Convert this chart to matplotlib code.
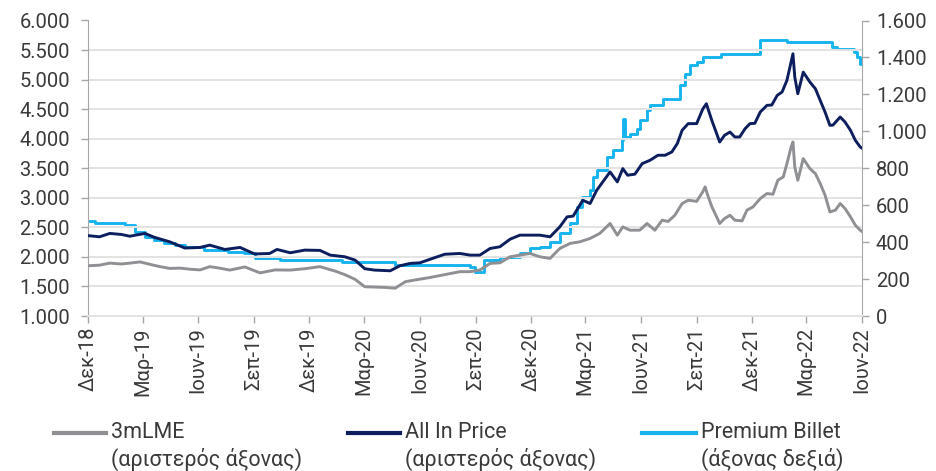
import matplotlib
matplotlib.use("Agg")
import matplotlib.pyplot as plt
from matplotlib.lines import Line2D
from matplotlib.ticker import FuncFormatter
import pandas as pd

plt.rcParams['font.family'] = ['Roboto', 'DejaVu Sans']

# ---------------- data ----------------
lme_dates = ["2018-12-01", "2018-12-20", "2019-01-06", "2019-01-25", "2019-02-08", "2019-02-25",
             "2019-03-15", "2019-03-30", "2019-04-15", "2019-05-02", "2019-05-20", "2019-06-04",
             "2019-06-20", "2019-07-06", "2019-07-23", "2019-08-17", "2019-09-11", "2019-10-06",
             "2019-10-31", "2019-11-24", "2019-12-19", "2020-01-13", "2020-01-29", "2020-02-15",
             "2020-03-02", "2020-03-18", "2020-04-04", "2020-04-21", "2020-05-08", "2020-05-24",
             "2020-06-17", "2020-07-12", "2020-08-06", "2020-08-23", "2020-09-08", "2020-09-25",
             "2020-10-11", "2020-10-28", "2020-11-13", "2020-11-30", "2020-12-16", "2021-01-02",
             "2021-01-18", "2021-02-04", "2021-02-20", "2021-03-09", "2021-03-25", "2021-04-11",
             "2021-04-23", "2021-05-02", "2021-05-14", "2021-05-30", "2021-06-11", "2021-06-24",
             "2021-07-06", "2021-07-16", "2021-07-27", "2021-08-08", "2021-08-18", "2021-09-01",
             "2021-09-11", "2021-09-15", "2021-09-19", "2021-09-26", "2021-10-04", "2021-10-09",
             "2021-10-17", "2021-10-26", "2021-11-03", "2021-11-15", "2021-11-23", "2021-12-03",
             "2021-12-15", "2021-12-26", "2022-01-05", "2022-01-13", "2022-01-22", "2022-01-28",
             "2022-02-04", "2022-02-07", "2022-02-10", "2022-02-15", "2022-02-24", "2022-03-07",
             "2022-03-16", "2022-03-24", "2022-04-01", "2022-04-09", "2022-04-18", "2022-04-26",
             "2022-05-04", "2022-05-13", "2022-05-21", "2022-05-29", "2022-06-01"]
lme_values = [1850, 1860, 1895, 1880, 1895, 1915,
              1870, 1835, 1805, 1810, 1790, 1780,
              1835, 1810, 1777, 1830, 1730, 1780,
              1777, 1800, 1835, 1760, 1700, 1620,
              1495, 1490, 1484, 1470, 1580, 1610,
              1650, 1700, 1750, 1750, 1777, 1890,
              1900, 2002, 2030, 2058, 2002, 1975,
              2143, 2228, 2255, 2312, 2397, 2565,
              2368, 2508, 2452, 2452, 2565, 2452,
              2621, 2600, 2705, 2903, 2959, 2940,
              3100, 3184, 3050, 2850, 2677, 2565,
              2649, 2705, 2621, 2610, 2790, 2846,
              2987, 3072, 3060, 3297, 3353, 3578,
              3860, 3944, 3522, 3297, 3663, 3494,
              3410, 3241, 3044, 2761, 2790, 2903,
              2818, 2677, 2537, 2452, 2430]

allin_dates = ["2018-12-01", "2018-12-20", "2019-01-06", "2019-01-25", "2019-02-08", "2019-03-05",
               "2019-03-21", "2019-04-15", "2019-05-10", "2019-06-04", "2019-06-20", "2019-07-15",
               "2019-08-09", "2019-09-02", "2019-09-27", "2019-10-09", "2019-10-31", "2019-11-24",
               "2019-12-19", "2020-01-05", "2020-01-29", "2020-02-15", "2020-03-02", "2020-03-18",
               "2020-04-13", "2020-04-29", "2020-05-16", "2020-06-01", "2020-06-17", "2020-07-12",
               "2020-08-06", "2020-08-23", "2020-09-08", "2020-09-25", "2020-10-11", "2020-10-28",
               "2020-11-13", "2020-11-30", "2020-12-16", "2021-01-02", "2021-01-18", "2021-01-30",
               "2021-02-09", "2021-02-25", "2021-03-09", "2021-03-20", "2021-03-30", "2021-04-11",
               "2021-04-23", "2021-05-02", "2021-05-10", "2021-05-22", "2021-06-03", "2021-06-16",
               "2021-06-29", "2021-07-11", "2021-07-22", "2021-07-31", "2021-08-08", "2021-08-18",
               "2021-09-01", "2021-09-11", "2021-09-17", "2021-09-26", "2021-10-04", "2021-10-09",
               "2021-10-17", "2021-10-26", "2021-11-03", "2021-11-11", "2021-11-20", "2021-11-28",
               "2021-12-06", "2021-12-15", "2021-12-26", "2022-01-03", "2022-01-12", "2022-01-20",
               "2022-01-28", "2022-02-02", "2022-02-07", "2022-02-10", "2022-02-15", "2022-02-24",
               "2022-03-07", "2022-03-16", "2022-03-24", "2022-04-01", "2022-04-09", "2022-04-14",
               "2022-04-26", "2022-05-04", "2022-05-13", "2022-05-21", "2022-05-29", "2022-06-01"]
allin_values = [2360, 2340, 2397, 2380, 2350, 2397,
                2330, 2255, 2150, 2160, 2199, 2126,
                2160, 2050, 2058, 2126, 2070, 2115,
                2110, 2030, 2002, 1946, 1800, 1777,
                1765, 1850, 1890, 1900, 1957, 2045,
                2058, 2030, 2030, 2143, 2171, 2300,
                2368, 2368, 2368, 2340, 2508, 2677,
                2690, 2959, 2903, 3128, 3269, 3438,
                3269, 3494, 3382, 3400, 3578, 3635,
                3720, 3720, 3776, 3917, 4142, 4255,
                4255, 4500, 4592, 4311, 4086, 3944,
                4057, 4113, 4029, 4029, 4170, 4255,
                4260, 4451, 4564, 4570, 4733, 4790,
                4986, 5212, 5437, 5043, 4761, 5127,
                4958, 4846, 4648, 4451, 4226, 4230,
                4367, 4282, 4142, 3973, 3860, 3840]

billet_dates = ["2018-12-01", "2018-12-13", "2019-01-31", "2019-02-17", "2019-03-05", "2019-03-20",
                "2019-04-05", "2019-04-23", "2019-05-10", "2019-06-10", "2019-07-20", "2019-08-15",
                "2019-09-02", "2019-10-14", "2020-01-25", "2020-04-21", "2020-08-23", "2020-08-31",
                "2020-09-15", "2020-10-11", "2020-11-13", "2020-11-30", "2020-12-16", "2021-01-02",
                "2021-01-18", "2021-02-04", "2021-02-15", "2021-02-23", "2021-03-09", "2021-03-14",
                "2021-03-20", "2021-04-06", "2021-04-16", "2021-05-01", "2021-05-02", "2021-05-06",
                "2021-05-14", "2021-05-25", "2021-05-30", "2021-06-11", "2021-06-16", "2021-07-07",
                "2021-08-04", "2021-08-12", "2021-08-21", "2021-09-01", "2021-09-11", "2021-10-12",
                "2021-12-15", "2022-01-28", "2022-04-13", "2022-04-21", "2022-05-18", "2022-05-24",
                "2022-05-28", "2022-05-31", "2022-06-01"]
billet_values = [515, 501, 492, 456, 429, 411,
                 393, 384, 375, 357, 348, 339,
                 312, 303, 294, 276, 267, 240,
                 303, 321, 339, 366, 375, 402,
                 447, 501, 591, 645, 681, 753,
                 789, 861, 897, 951, 1068, 969,
                 987, 1014, 1059, 1113, 1140, 1176,
                 1249, 1311, 1357, 1374, 1402, 1420,
                 1492, 1483, 1456, 1447, 1430, 1402,
                 1366, 1384, 1384]

tick_dates = ["2018-12-01", "2019-03-01", "2019-06-01", "2019-09-01", "2019-12-01",
              "2020-03-01", "2020-06-01", "2020-09-01", "2020-12-01", "2021-03-01",
              "2021-06-01", "2021-09-01", "2021-12-01", "2022-03-01", "2022-06-01"]
tick_labels = ["Δεκ-18", "Μαρ-19", "Ιουν-19", "Σεπ-19", "Δεκ-19", "Μαρ-20", "Ιουν-20",
               "Σεπ-20", "Δεκ-20", "Μαρ-21", "Ιουν-21", "Σεπ-21", "Δεκ-21", "Μαρ-22", "Ιουν-22"]

legend_names = ["3mLME", "All In Price", "Premium Billet"]
legend_notes = ["(αριστερός άξονας)", "(αριστερός άξονας)", "(άξονας δεξιά)"]

# ---------------- styling ----------------
c_grey = "#8E9093"
c_navy = "#0D1E5E"
c_blue = "#17B3EE"
txt = "#3A3A3A"
spine_c = "#A6A6A6"
grid_c = "#E3E3E3"
fs = 14.5
fs_leg = 15.5

fig = plt.figure(figsize=(9.37, 4.71), dpi=100)
ax = fig.add_axes([88/937, 1-316/471, (862-88)/937, (316-20.5)/471])
ax2 = ax.twinx()

lw = 2.1
ax.plot(pd.to_datetime(lme_dates), lme_values, color=c_grey, lw=lw, zorder=3)
ax.plot(pd.to_datetime(allin_dates), allin_values, color=c_navy, lw=lw, zorder=4)
ax2.plot(pd.to_datetime(billet_dates), billet_values, color=c_blue, lw=lw,
         drawstyle="steps-post", zorder=3)

ax.set_zorder(ax2.get_zorder() + 1)
ax.patch.set_visible(False)

ax.set_xlim(pd.Timestamp("2018-12-01"), pd.Timestamp("2022-06-01"))
ax.set_ylim(1000, 6000)
ax2.set_ylim(0, 1600)
ax.set_yticks(range(1000, 6001, 500))
ax2.set_yticks(range(0, 1601, 200))

fmt = FuncFormatter(lambda v, p: f"{int(v):,}".replace(",", "."))
ax.yaxis.set_major_formatter(fmt)
ax2.yaxis.set_major_formatter(fmt)

ax.set_xticks(pd.to_datetime(tick_dates))
ax.set_xticklabels(tick_labels, rotation=90)

ax.grid(axis="y", color=grid_c, lw=1.4, zorder=0)
ax.set_axisbelow(True)

for a in (ax, ax2):
    a.spines["top"].set_visible(False)
    a.spines["left"].set_color(spine_c)
    a.spines["right"].set_color(spine_c)
    a.spines["bottom"].set_color(grid_c)
    a.spines["bottom"].set_linewidth(1.4)
ax.spines["right"].set_visible(False)
ax2.spines["left"].set_visible(False)

ax.tick_params(axis="y", length=5, width=1, color=spine_c, labelsize=fs, labelcolor=txt, pad=8)
ax.tick_params(axis="x", length=5, width=1, color=spine_c, labelsize=fs, labelcolor=txt, pad=3)
ax2.tick_params(axis="y", length=5, width=1, color=spine_c, labelsize=fs, labelcolor=txt, pad=5)

# ---------------- legend ----------------
colors = [c_grey, c_navy, c_blue]
handle_x = [(54, 106), (348, 400), (642, 696)]
for (x0, x1), col, name, note in zip(handle_x, colors, legend_names, legend_notes):
    y = 1 - 433/471
    fig.add_artist(Line2D([x0/937, x1/937], [y, y], color=col, lw=3.0))
    fig.text((x1 + 5)/937, y, name, fontsize=fs_leg, color=txt, va="center", ha="left")
    fig.text((x1 + 5)/937, 1 - 459/471, note, fontsize=fs_leg, color=txt, va="center", ha="left")

fig.savefig("out.png", dpi=100)
